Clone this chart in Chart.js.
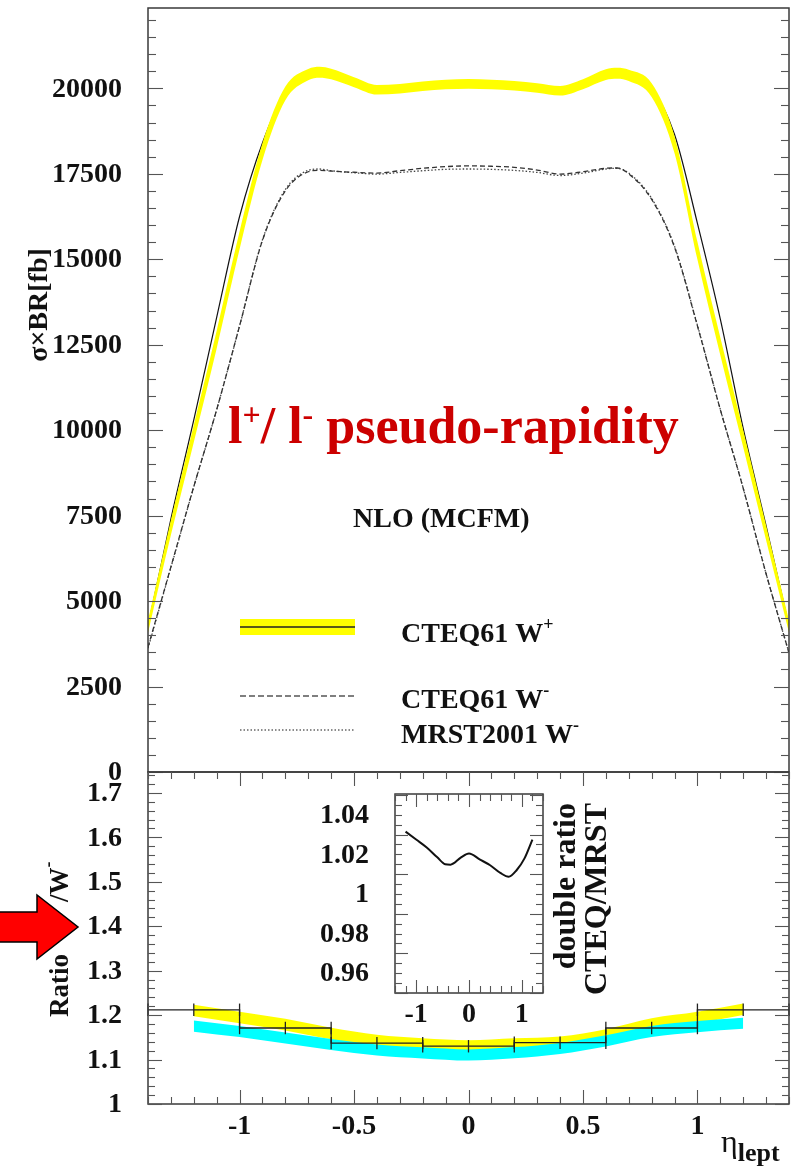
<!DOCTYPE html>
<html>
<head>
<meta charset="utf-8">
<script src="https://cdn.jsdelivr.net/npm/chart.js@4.4.1/dist/chart.umd.min.js"></script>
<style>
  html, body { margin: 0; padding: 0; background: #fff; }
  #wrap { position: relative; width: 799px; height: 1169px; }
  #wrap canvas { position: absolute; left: 0; top: 0; }
</style>
</head>
<body>
<div id="wrap">
  <canvas id="c-top" width="799" height="1169"></canvas>
  <canvas id="c-ratio" width="799" height="1169"></canvas>
  <canvas id="c-inset" width="799" height="1169"></canvas>
</div>
<script>
/* ── Cross sections σ×BR [fb] versus lepton pseudo-rapidity ── */
const etaGrid = [-1.4, -1.3, -1.2, -1.1, -1.0, -0.9, -0.8, -0.7, -0.65, -0.6, -0.5, -0.4, -0.3, -0.2, -0.1, 0,
                 0.1, 0.2, 0.3, 0.4, 0.5, 0.6, 0.65, 0.7, 0.8, 0.9, 1.0, 1.1, 1.2, 1.3, 1.4];

/* CTEQ61 W+ : band centre, band half-width, central curve */
const wPlusBand = [4250, 7150, 9900, 12650, 15550, 18150, 19850, 20400, 20470, 20420, 20180, 19960, 19990, 20060, 20110, 20130,
                   20110, 20075, 20010, 19930, 20120, 20400, 20440, 20380, 19950, 18350, 15250, 12450, 9750, 7000, 4250];
const wPlusErr  = [180, 220, 250, 260, 260, 250, 200, 165, 160, 155, 145, 140, 140, 140, 140, 140,
                   140, 140, 140, 140, 145, 155, 160, 165, 200, 250, 260, 260, 250, 220, 180];
const wPlusLine = [4250, 7400, 10300, 13300, 16250, 18400, 19900, 20400, 20470, 20420, 20180, 19960, 19990, 20060, 20110, 20130,
                   20110, 20075, 20010, 19930, 20120, 20400, 20440, 20380, 20000, 18650, 16050, 13250, 10050, 7200, 4250];

/* W- : CTEQ61 (dashed) and MRST2001 (dotted) */
const wMinusCteq = [3650, 6000, 8350, 10600, 13050, 15550, 17000, 17560, 17600, 17580, 17545, 17520, 17590, 17660, 17710, 17730,
                    17720, 17690, 17610, 17490, 17560, 17660, 17670, 17500, 16750, 15350, 13050, 10600, 8300, 5800, 3480];
const wMinusMrst = [3620, 5980, 8340, 10600, 13050, 15570, 17040, 17600, 17640, 17590, 17530, 17490, 17540, 17590, 17630, 17640,
                    17630, 17600, 17540, 17450, 17520, 17640, 17660, 17520, 16780, 15380, 13070, 10610, 8300, 5800, 3480];

/* ── Ratio W+/W- ── */
const ratioEdges   = [-1.4, -1.0, -0.6, -0.2, 0.2, 0.6, 1.0, 1.4];
const ratioHist    = [1.212, 1.171, 1.137, 1.130, 1.138, 1.171, 1.212];
const ratioHistErr = 0.014;

const ratioEta     = [-1.2, -1.0, -0.8, -0.6, -0.4, -0.2, 0, 0.2, 0.4, 0.6, 0.8, 1.0, 1.2];
const ratioCteq    = [1.2105, 1.1947, 1.1786, 1.1585, 1.143, 1.135, 1.1306, 1.135, 1.139, 1.1554, 1.180, 1.1944, 1.213];
const ratioCteqErr = 0.013;
const ratioMrst    = [1.1752, 1.163, 1.1486, 1.134, 1.1216, 1.115, 1.1103, 1.1155, 1.125, 1.142, 1.163, 1.174, 1.1817];
const ratioMrstErr = 0.0125;

/* ── Double ratio CTEQ/MRST (inset) ── */
const insetEta    = [-1.2, -1.0, -0.8, -0.6, -0.45, -0.35, -0.15, 0, 0.2, 0.4, 0.6, 0.75, 0.9, 1.05, 1.2];
const doubleRatio = [1.0315, 1.0275, 1.0235, 1.0185, 1.015, 1.0148, 1.0185, 1.0205, 1.0175, 1.0145, 1.0105, 1.0087, 1.012, 1.018, 1.0275];

/* ── Tick labels ── */
const topTicks    = [0, 2500, 5000, 7500, 10000, 12500, 15000, 17500, 20000];
const ratioTicks  = [1, 1.1, 1.2, 1.3, 1.4, 1.5, 1.6, 1.7];
const etaTicks    = [-1, -0.5, 0, 0.5, 1];
const insetYTicks = [0.96, 0.98, 1, 1.02, 1.04];
const insetXTicks = [-1, 0, 1];

/* ── Helpers ── */
const SERIF = '"Liberation Serif", "Times New Roman", serif';
const bold  = px => `bold ${px}px ${SERIF}`;
const pts   = (xs, ys) => xs.map((x, i) => ({ x, y: ys[i] }));
const shift = (ys, d, s) => ys.map((y, i) => y + s * (Array.isArray(d) ? d[i] : d));

function line(ctx, x1, y1, x2, y2) {
  ctx.beginPath(); ctx.moveTo(x1, y1); ctx.lineTo(x2, y2); ctx.stroke();
}

/* Text made of pieces with their own font and vertical offset (superscripts) */
function richText(ctx, x, y, parts) {
  let cx = x;
  parts.forEach(([t, font, dy]) => {
    ctx.font = font;
    ctx.fillText(t, cx, y + (dy || 0));
    cx += ctx.measureText(t).width;
  });
}

function frame(chart) {
  const { left, right, top, bottom } = chart.chartArea;
  const ctx = chart.ctx;
  ctx.strokeStyle = '#3a3a3a';
  ctx.lineWidth = 1.5;
  ctx.strokeRect(left, top, right - left, bottom - top);
}

/* Inward ticks on both vertical sides (ROOT style) */
function yTickMarks(chart, scale, n, v0, step, majorEvery, major, minor) {
  const ctx = chart.ctx;
  const { left, right } = chart.chartArea;
  ctx.strokeStyle = '#555';
  ctx.lineWidth = 1.1;
  for (let k = 0; k <= n; k++) {
    const py = Math.round(scale.getPixelForValue(v0 + k * step)) + 0.5;
    const len = k % majorEvery === 0 ? major : minor;
    line(ctx, left, py, left + len, py);
    line(ctx, right - len, py, right, py);
  }
}

/* Inward ticks on the horizontal sides */
function xTickMarks(chart, scale, kFrom, kTo, step, majorEvery, major, minor, sides) {
  const ctx = chart.ctx;
  const { top, bottom } = chart.chartArea;
  ctx.strokeStyle = '#555';
  ctx.lineWidth = 1.1;
  for (let k = kFrom; k <= kTo; k++) {
    const px = Math.round(scale.getPixelForValue(k * step)) + 0.5;
    const len = k % majorEvery === 0 ? major : minor;
    if (sides.includes('bottom')) line(ctx, px, bottom, px, bottom - len);
    if (sides.includes('top')) line(ctx, px, top, px, top + len);
  }
}

const baseOptions = padding => ({
  responsive: false,
  animation: false,
  devicePixelRatio: 1,
  layout: { padding },
  plugins: { legend: { display: false }, tooltip: { enabled: false } },
  elements: { point: { radius: 0 }, line: { cubicInterpolationMode: 'monotone' } },
});

/* ══════════ Upper panel: σ×BR ══════════ */
const topDecor = {
  id: 'topDecor',
  afterDraw(chart) {
    const ctx = chart.ctx;
    const ys = chart.scales.y;
    ctx.save();
    frame(chart);
    yTickMarks(chart, ys, 44, 0, 500, 5, 15, 8);

    ctx.fillStyle = '#111';
    ctx.font = bold(28);
    ctx.textAlign = 'right';
    ctx.textBaseline = 'middle';
    topTicks.forEach(v => ctx.fillText(String(v), 122, ys.getPixelForValue(v) + 1));

    /* axis title */
    ctx.save();
    ctx.translate(47, 305);
    ctx.rotate(-Math.PI / 2);
    ctx.textAlign = 'center';
    ctx.textBaseline = 'alphabetic';
    ctx.font = bold(28);
    ctx.fillText('σ×BR[fb]', 0, 0);
    ctx.restore();

    ctx.textAlign = 'left';
    ctx.textBaseline = 'alphabetic';

    /* headline */
    ctx.fillStyle = '#cc0000';
    richText(ctx, 228, 443, [
      ['l', bold(52)], ['+', bold(32), -18], ['/ l', bold(52)], ['-', bold(32), -18], [' pseudo-rapidity', bold(52)],
    ]);

    ctx.fillStyle = '#111';
    ctx.font = bold(28);
    ctx.fillText('NLO (MCFM)', 353, 527);

    /* legend */
    ctx.fillStyle = '#ffff00';
    ctx.fillRect(240, 619, 115, 16);
    ctx.strokeStyle = '#222';
    ctx.lineWidth = 1.4;
    line(ctx, 240, 627, 355, 627);
    ctx.strokeStyle = '#555';
    ctx.setLineDash([6, 3]);
    line(ctx, 240, 696, 355, 696);
    ctx.strokeStyle = '#666';
    ctx.setLineDash([1.5, 2]);
    line(ctx, 240, 730, 355, 730);
    ctx.setLineDash([]);

    ctx.fillStyle = '#111';
    richText(ctx, 401, 642, [['CTEQ61 W', bold(28)], ['+', bold(18), -12]]);
    richText(ctx, 401, 708, [['CTEQ61 W', bold(28)], ['-', bold(18), -12]]);
    richText(ctx, 401, 743, [['MRST2001 W', bold(28)], ['-', bold(18), -12]]);
    ctx.restore();
  },
};

new Chart(document.getElementById('c-top'), {
  type: 'line',
  data: {
    datasets: [
      { label: 'W+ band low', data: pts(etaGrid, shift(wPlusBand, wPlusErr, -1)), borderWidth: 0, fill: false, order: 1 },
      { label: 'CTEQ61 W+', data: pts(etaGrid, shift(wPlusBand, wPlusErr, 1)), borderWidth: 0,
        fill: '-1', backgroundColor: '#ffff00', order: 1 },
      { label: 'CTEQ61 W+ central', data: pts(etaGrid, wPlusLine), borderColor: '#111', borderWidth: 1.2, order: 2 },
      { label: 'CTEQ61 W-', data: pts(etaGrid, wMinusCteq), borderColor: '#333', borderWidth: 1.3,
        borderDash: [5, 3], order: 0 },
      { label: 'MRST2001 W-', data: pts(etaGrid, wMinusMrst), borderColor: '#444', borderWidth: 1.3,
        borderDash: [1.5, 2], order: 0 },
    ],
  },
  options: {
    ...baseOptions({ left: 148, right: 10, top: 8, bottom: 397 }),
    scales: {
      x: { type: 'linear', min: -1.4, max: 1.4, display: false },
      y: { type: 'linear', min: 0, max: 22350, display: false },
    },
  },
  plugins: [topDecor],
});

/* ══════════ Lower panel: ratio W+/W- ══════════ */
const ratioDecor = {
  id: 'ratioDecor',
  afterDatasetsDraw(chart) {
    /* error ticks on the histogram at bin edges and centres */
    const ctx = chart.ctx;
    const xs = chart.scales.x, ys = chart.scales.y;
    ctx.save();
    ctx.strokeStyle = '#222';
    ctx.lineWidth = 1.3;
    ratioHist.forEach((v, i) => {
      const a = ratioEdges[i], b = ratioEdges[i + 1];
      [a, (a + b) / 2, b].forEach(e => {
        const px = xs.getPixelForValue(e);
        line(ctx, px, ys.getPixelForValue(v - ratioHistErr), px, ys.getPixelForValue(v + ratioHistErr));
      });
    });
    ctx.restore();
  },
  afterDraw(chart) {
    const ctx = chart.ctx;
    const xs = chart.scales.x, ys = chart.scales.y;
    ctx.save();
    frame(chart);
    yTickMarks(chart, ys, 37, 1, 0.02, 5, 14, 7);
    xTickMarks(chart, xs, -14, 14, 0.1, 5, 14, 7, ['bottom', 'top']);

    ctx.fillStyle = '#111';
    ctx.font = bold(28);
    ctx.textAlign = 'right';
    ctx.textBaseline = 'middle';
    ratioTicks.forEach(v => ctx.fillText(String(v), 122, ys.getPixelForValue(v) + 1));
    ctx.textAlign = 'center';
    etaTicks.forEach(v => ctx.fillText(String(v), xs.getPixelForValue(v), 1127));

    /* η_lept */
    ctx.textAlign = 'left';
    ctx.textBaseline = 'alphabetic';
    richText(ctx, 721, 1152, [['η', `32px ${SERIF}`], ['lept', bold(26), 9]]);

    /* axis title, partly under the arrow */
    ctx.save();
    ctx.translate(68, 1017);
    ctx.rotate(-Math.PI / 2);
    ctx.font = bold(27);
    ctx.fillText('Ratio', 0, 0);
    ctx.restore();
    ctx.save();
    ctx.translate(68, 902);
    ctx.rotate(-Math.PI / 2);
    richText(ctx, 0, 0, [['/W', bold(27)], ['-', bold(18), -14]]);
    ctx.restore();

    /* red pointer */
    ctx.beginPath();
    ctx.moveTo(-3, 912);
    ctx.lineTo(37, 912);
    ctx.lineTo(37, 895);
    ctx.lineTo(78, 927);
    ctx.lineTo(37, 959);
    ctx.lineTo(37, 942);
    ctx.lineTo(-3, 942);
    ctx.closePath();
    ctx.fillStyle = '#ff0000';
    ctx.fill();
    ctx.strokeStyle = '#000';
    ctx.lineWidth = 1.5;
    ctx.stroke();
    ctx.restore();
  },
};

new Chart(document.getElementById('c-ratio'), {
  type: 'line',
  data: {
    datasets: [
      { label: 'ratio histogram', data: pts(ratioEdges, [...ratioHist, ratioHist[ratioHist.length - 1]]),
        stepped: true, borderColor: '#222', borderWidth: 1.3, order: 0 },
      { label: 'MRST low', data: pts(ratioEta, shift(ratioMrst, ratioMrstErr, -1)), borderWidth: 0, fill: false, order: 1 },
      { label: 'MRST', data: pts(ratioEta, shift(ratioMrst, ratioMrstErr, 1)), borderWidth: 0,
        fill: '-1', backgroundColor: '#00ffff', order: 1 },
      { label: 'CTEQ low', data: pts(ratioEta, shift(ratioCteq, ratioCteqErr, -1)), borderWidth: 0, fill: false, order: 2 },
      { label: 'CTEQ', data: pts(ratioEta, shift(ratioCteq, ratioCteqErr, 1)), borderWidth: 0,
        fill: '-1', backgroundColor: '#ffff00', order: 2 },
    ],
  },
  options: {
    ...baseOptions({ left: 148, right: 10, top: 772, bottom: 65 }),
    scales: {
      x: { type: 'linear', min: -1.4, max: 1.4, display: false },
      y: { type: 'linear', min: 1, max: 1.747, display: false },
    },
  },
  plugins: [ratioDecor],
});

/* ══════════ Inset: double ratio ══════════ */
const insetDecor = {
  id: 'insetDecor',
  beforeDatasetsDraw(chart) {
    const { left, right, top, bottom } = chart.chartArea;
    chart.ctx.save();
    chart.ctx.fillStyle = '#fff';
    chart.ctx.fillRect(left, top, right - left, bottom - top);
    chart.ctx.restore();
  },
  afterDraw(chart) {
    const ctx = chart.ctx;
    const xs = chart.scales.x, ys = chart.scales.y;
    ctx.save();
    frame(chart);
    yTickMarks(chart, ys, 20, 0.95, 0.005, 4, 13, 7);
    xTickMarks(chart, xs, -7, 7, 0.2, 5, 13, 7, ['bottom', 'top']);

    ctx.fillStyle = '#111';
    ctx.font = bold(28);
    ctx.textAlign = 'right';
    ctx.textBaseline = 'middle';
    insetYTicks.forEach(v => ctx.fillText(String(v), 369, ys.getPixelForValue(v) + 1));
    ctx.textAlign = 'center';
    insetXTicks.forEach(v => ctx.fillText(String(v), xs.getPixelForValue(v), 1015));

    ctx.textAlign = 'right';
    ctx.textBaseline = 'alphabetic';
    ctx.font = bold(32);
    [['double ratio', 575], ['CTEQ/MRST', 606]].forEach(([t, x]) => {
      ctx.save();
      ctx.translate(x, 803);
      ctx.rotate(-Math.PI / 2);
      ctx.fillText(t, 0, 0);
      ctx.restore();
    });
    ctx.restore();
  },
};

new Chart(document.getElementById('c-inset'), {
  type: 'line',
  data: {
    datasets: [
      { label: 'double ratio', data: pts(insetEta, doubleRatio), borderColor: '#111', borderWidth: 2 },
    ],
  },
  options: {
    ...baseOptions({ left: 395, right: 256, top: 794, bottom: 176 }),
    scales: {
      x: { type: 'linear', min: -1.4, max: 1.4, display: false },
      y: { type: 'linear', min: 0.95, max: 1.0505, display: false },
    },
  },
  plugins: [insetDecor],
});
</script>
</body>
</html>
